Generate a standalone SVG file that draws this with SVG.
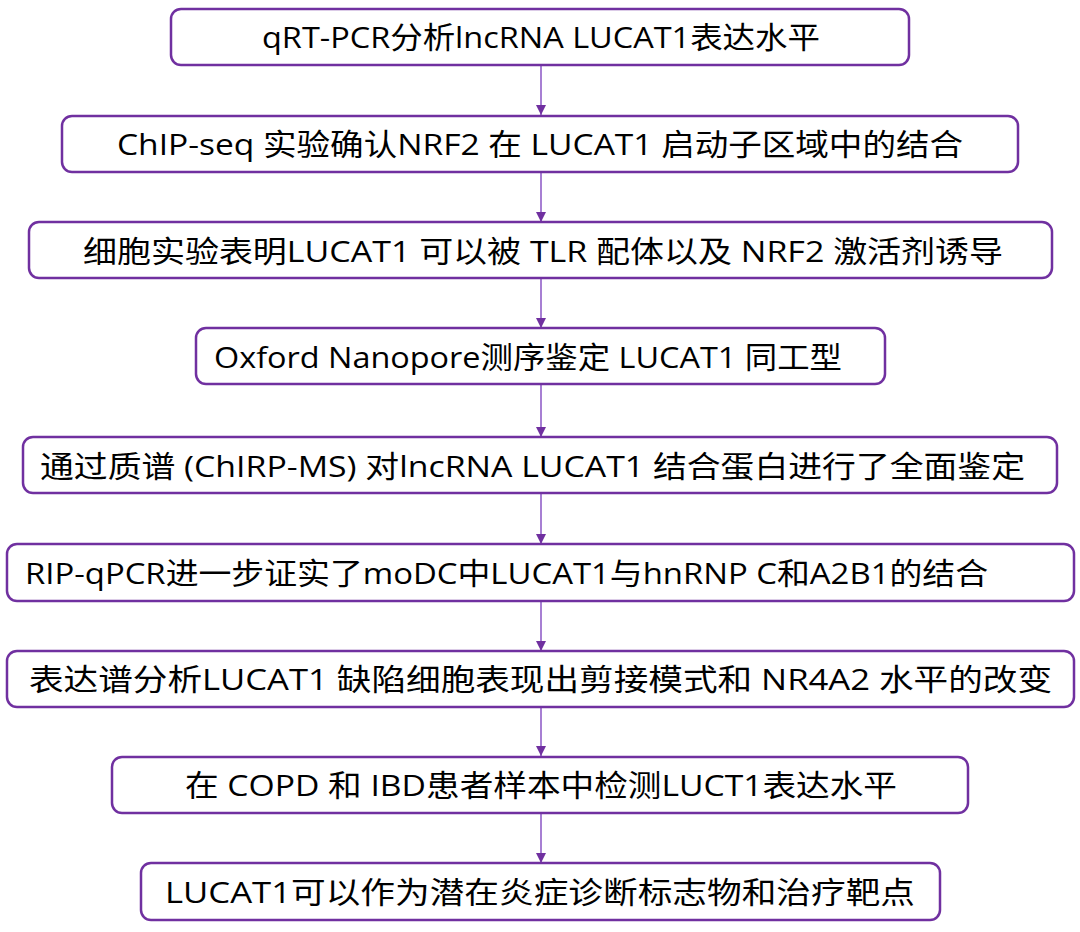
<svg xmlns="http://www.w3.org/2000/svg" width="1080" height="932" viewBox="0 0 1080 932">
<style>
.box{fill:#ffffff;stroke:#7030a0;stroke-width:2.5}
.lbl{font-family:"Open Sans","Noto Sans CJK SC",sans-serif;font-size:30px;fill:#000000}
.con{stroke:#a77fd3;stroke-width:2;fill:none}
</style>
<defs>
<marker id="ah" viewBox="0 0 10 10" refX="10" refY="5" markerWidth="10" markerHeight="10" markerUnits="userSpaceOnUse" orient="auto">
<path d="M0,0 L10,5 L0,10 z" fill="#7030a0"/>
</marker>
</defs>
<rect width="1080" height="932" fill="#ffffff"/>
<g id="connectors">
<line class="con" x1="541" y1="65" x2="541" y2="115" marker-end="url(#ah)"/>
<line class="con" x1="541" y1="172" x2="541" y2="222" marker-end="url(#ah)"/>
<line class="con" x1="541" y1="278" x2="541" y2="328" marker-end="url(#ah)"/>
<line class="con" x1="541" y1="385" x2="541" y2="437" marker-end="url(#ah)"/>
<line class="con" x1="541" y1="494" x2="541" y2="544" marker-end="url(#ah)"/>
<line class="con" x1="541" y1="601" x2="541" y2="651" marker-end="url(#ah)"/>
<line class="con" x1="541" y1="707" x2="541" y2="756" marker-end="url(#ah)"/>
<line class="con" x1="541" y1="813" x2="541" y2="863" marker-end="url(#ah)"/>
</g>
<g id="n1"><rect class="box" x="171" y="9" width="738" height="56" rx="10"/><text class="lbl" x="262" y="48" textLength="558" lengthAdjust="spacingAndGlyphs">qRT-PCR分析lncRNA LUCAT1表达水平</text></g>
<g id="n2"><rect class="box" x="62" y="116" width="956" height="56" rx="10"/><text class="lbl" x="117" y="155" textLength="846" lengthAdjust="spacingAndGlyphs">ChIP-seq 实验确认NRF2 在 LUCAT1 启动子区域中的结合</text></g>
<g id="n3"><rect class="box" x="29" y="222" width="1023" height="56" rx="10"/><text class="lbl" x="83" y="262" textLength="920" lengthAdjust="spacingAndGlyphs">细胞实验表明LUCAT1 可以被 TLR 配体以及 NRF2 激活剂诱导</text></g>
<g id="n4"><rect class="box" x="196" y="328" width="689" height="56" rx="10"/><text class="lbl" x="214" y="368" textLength="628" lengthAdjust="spacingAndGlyphs">Oxford Nanopore测序鉴定 LUCAT1 同工型</text></g>
<g id="n5"><rect class="box" x="23" y="437" width="1034" height="56" rx="10"/><text class="lbl" x="40" y="477" textLength="985" lengthAdjust="spacingAndGlyphs">通过质谱 (ChIRP-MS) 对lncRNA LUCAT1 结合蛋白进行了全面鉴定</text></g>
<g id="n6"><rect class="box" x="7" y="544" width="1067" height="57" rx="10"/><text class="lbl" x="25" y="584" textLength="963" lengthAdjust="spacingAndGlyphs">RIP-qPCR进一步证实了moDC中LUCAT1与hnRNP C和A2B1的结合</text></g>
<g id="n7"><rect class="box" x="7" y="651" width="1067" height="56" rx="10"/><text class="lbl" x="29" y="690" textLength="1023" lengthAdjust="spacingAndGlyphs">表达谱分析LUCAT1 缺陷细胞表现出剪接模式和 NR4A2 水平的改变</text></g>
<g id="n8"><rect class="box" x="112" y="757" width="856" height="56" rx="10"/><text class="lbl" x="185" y="796" textLength="712" lengthAdjust="spacingAndGlyphs">在 COPD 和 IBD患者样本中检测LUCT1表达水平</text></g>
<g id="n9"><rect class="box" x="141" y="863" width="799" height="57" rx="10"/><text class="lbl" x="165" y="903" textLength="750" lengthAdjust="spacingAndGlyphs">LUCAT1可以作为潜在炎症诊断标志物和治疗靶点</text></g>
</svg>
